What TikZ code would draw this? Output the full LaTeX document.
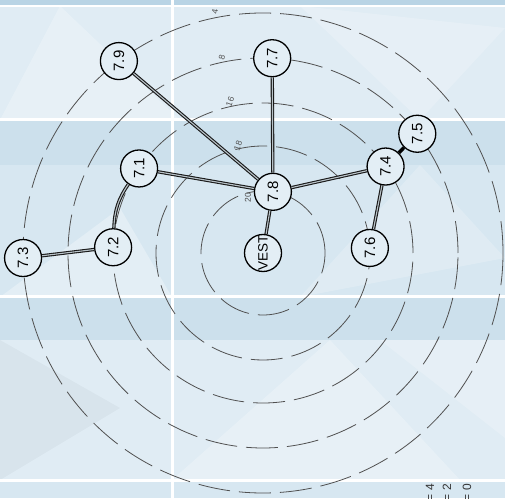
\documentclass[tikz,border=0pt]{standalone}
\usepackage{fontspec}
\setmainfont{Liberation Sans}
\usetikzlibrary{calc}
\definecolor{bgbase}{HTML}{D7E7F1}
\definecolor{bgtop}{HTML}{B9D4E5}
\definecolor{bgdark}{HTML}{CCE0EC}
\definecolor{bglight}{HTML}{E0ECF4}
\definecolor{ringcol}{HTML}{505050}
\definecolor{nodefill}{HTML}{E3EEF5}
\definecolor{edgein}{HTML}{B8C2C8}
\begin{document}
\begin{tikzpicture}[x=1pt,y=1pt,
  nd/.style={circle,draw=black,line width=1.3pt,fill=nodefill,minimum size=37pt,inner sep=0pt,
    rotate=90,font=\fontsize{15}{15}\selectfont},
  ring/.style={draw=ringcol,line width=0.8pt,dash pattern=on 32pt off 9pt},
  edge/.style={draw=black!90,line width=1.1pt,double=edgein,double distance=1.1pt},
  thickedge/.style={draw=black,line width=3.5pt},
  ringlbl/.style={text=ringcol,font=\fontsize{8.5}{8.5}\selectfont,inner sep=0pt},
  cornertxt/.style={text=black!80,font=\fontsize{12}{12}\selectfont,rotate=90,anchor=east,inner sep=0pt},
  bgline/.style={draw=white,line width=3pt}]
\useasboundingbox (0,0) rectangle (505,498);
\begin{scope}
\clip (0,0) rectangle (505,498);
% background bands
\fill[bgbase] (0,0) rectangle (505,498);
\fill[bglight] (0,378) rectangle (505,492);
\fill[bgdark] (0,333) rectangle (505,378);
\fill[bgbase] (0,201) rectangle (505,333);
\fill[bgdark] (0,158) rectangle (505,201);
\fill[bglight] (0,18) rectangle (505,158);
\fill[bgbase] (0,0) rectangle (505,18);
\fill[bgtop] (0,492) rectangle (505,498);
% low-poly shading
\fill[white,opacity=0.25] (0,378) -- (60,492) -- (180,378) -- cycle;
\fill[white,opacity=0.2] (300,492) -- (420,378) -- (505,470) -- cycle;
\fill[white,opacity=0.3] (0,201) -- (120,290) -- (172,201) -- cycle;
\fill[white,opacity=0.2] (300,201) -- (420,333) -- (505,240) -- cycle;
\fill[white,opacity=0.25] (172,18) -- (330,158) -- (460,18) -- cycle;
\fill[black,opacity=0.03] (0,18) -- (0,158) -- (120,90) -- cycle;
\fill[white,opacity=0.2] (380,158) -- (505,60) -- (505,158) -- cycle;
% white grid lines
\draw[bgline,line width=2pt] (0,492) -- (505,492);
\draw[bgline] (0,378) -- (505,378);
\draw[bgline] (0,201) -- (505,201);
\draw[bgline] (0,18) -- (505,18);
\draw[bgline] (172,0) -- (172,498);
\end{scope}

\coordinate (C) at (263,245);
% dashed rings
\foreach \r in {62,107,150,195,240}{
  \draw[ring] (C) circle[radius=\r];
}
% ring labels
\node[ringlbl,rotate=80] (l4) at (215,486) {4};
\node[ringlbl,rotate=75] (l8) at (222,441) {8};
\node[ringlbl,rotate=70] (l16) at (230,396) {16};
\node[ringlbl,rotate=70] (l18) at (238,352) {18};
\node[ringlbl,rotate=90] (l20) at (248,300) {20};

% nodes
\node[nd,font=\fontsize{13.5}{13.5}\selectfont] (vest) at (C) {VEST};
\node[nd] (n78) at ($(C)+(80.8:62)$) {7.8};
\node[nd] (n76) at ($(C)+(2.7:107)$) {7.6};
\node[nd] (n71) at ($(C)+(145.7:150)$) {7.1};
\node[nd] (n74) at ($(C)+(35.2:150)$) {7.4};
\node[nd] (n72) at ($(C)+(177.8:150)$) {7.2};
\node[nd] (n77) at ($(C)+(87.3:195)$) {7.7};
\node[nd] (n75) at ($(C)+(37.7:195)$) {7.5};
\node[nd] (n79) at ($(C)+(126.9:240)$) {7.9};
\node[nd] (n73) at ($(C)+(181.2:240)$) {7.3};

% edges
\draw[edge] (n78) -- (n79);
\draw[edge] (n78) -- (n77);
\draw[edge] (n78) -- (n71);
\draw[edge] (n78) -- (n74);
\draw[edge] (n78) -- (vest);
\draw[edge] (n74) -- (n76);
\draw[thickedge] (n74) -- (n75);
\draw[edge] (n71) to[bend right=16] (n72);
\draw[edge] (n72) -- (n73);

% corner text
\begin{scope}
\clip (0,0) rectangle (505,498);
\node[cornertxt] (c4) at (430,14) {= 4};
\node[cornertxt] (c2) at (447,14) {= 2};
\node[cornertxt] (c0) at (467,14) {= 0};
\end{scope}
\end{tikzpicture}
\end{document}
